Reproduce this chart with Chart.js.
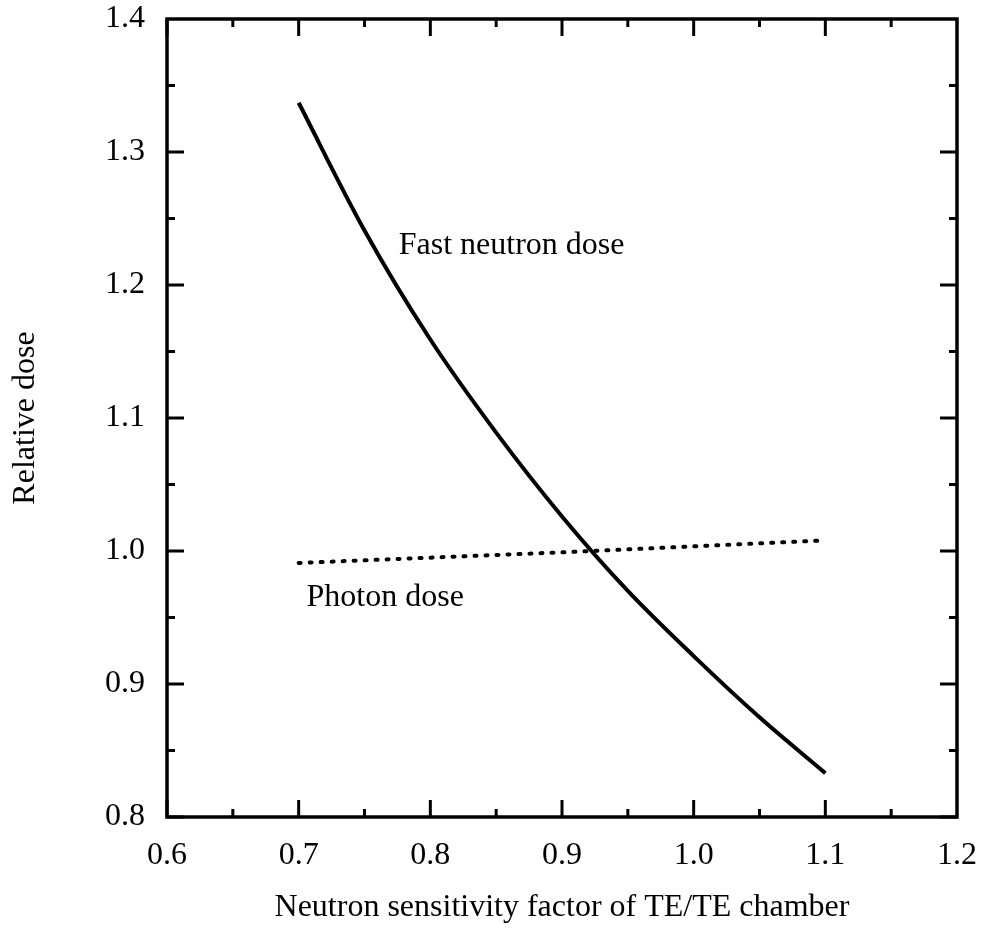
<!DOCTYPE html>
<html>
<head>
<meta charset="utf-8">
<script src="https://cdn.jsdelivr.net/npm/chart.js@4.4.1/dist/chart.umd.min.js"></script>
<style>
  html, body { margin: 0; padding: 0; background: #fff; }
  #wrap { width: 987px; height: 937px; }
</style>
</head>
<body>
<div id="wrap"><canvas id="doseChart" width="987" height="937"></canvas></div>
<script>
// Data
const sensitivity = [0.70, 0.75, 0.80, 0.85, 0.90, 0.95, 1.00, 1.05, 1.10];
const fastNeutronDose = [1.337, 1.241, 1.159, 1.089, 1.026, 0.970, 0.921, 0.875, 0.833];
const photonX = [0.70, 0.90, 1.10];
const photonDose = [0.991, 0.999, 1.008];
const xTicks = [0.6, 0.7, 0.8, 0.9, 1.0, 1.1, 1.2];
const yTicks = [0.8, 0.9, 1.0, 1.1, 1.2, 1.3, 1.4];
const curveLabels = ['Fast neutron dose', 'Photon dose'];
const labelX = [0.776, 0.706];
const labelY = [1.230, 0.965];

const serif = '"Liberation Serif", "DejaVu Serif", serif';
const fontSize = 32;

// Cadre et graduations vers l'intérieur, sur les quatre côtés
const framePlugin = {
  id: 'frame',
  afterDatasetsDraw(chart) {
    const ctx = chart.ctx;
    const a = chart.chartArea;
    const xs = chart.scales.x;
    const ys = chart.scales.y;
    ctx.save();
    ctx.strokeStyle = '#000';
    ctx.lineWidth = 3.5;
    ctx.strokeRect(a.left, a.top, a.right - a.left, a.bottom - a.top);

    ctx.lineWidth = 3;
    for (let i = 0; i < xTicks.length - 1; i++) {
      [xTicks[i], (xTicks[i] + xTicks[i + 1]) / 2].forEach((v, k) => {
        const len = k === 0 ? 17 : 8;
        const px = xs.getPixelForValue(v);
        ctx.beginPath();
        ctx.moveTo(px, a.bottom); ctx.lineTo(px, a.bottom - len);
        ctx.moveTo(px, a.top); ctx.lineTo(px, a.top + len);
        ctx.stroke();
      });
    }
    for (let i = 0; i < yTicks.length - 1; i++) {
      [yTicks[i], (yTicks[i] + yTicks[i + 1]) / 2].forEach((v, k) => {
        const len = k === 0 ? 17 : 8;
        const py = ys.getPixelForValue(v);
        ctx.beginPath();
        ctx.moveTo(a.left, py); ctx.lineTo(a.left + len, py);
        ctx.moveTo(a.right, py); ctx.lineTo(a.right - len, py);
        ctx.stroke();
      });
    }

    // Libellés des courbes
    ctx.fillStyle = '#000';
    ctx.font = fontSize + 'px ' + serif;
    ctx.textAlign = 'left';
    ctx.textBaseline = 'middle';
    curveLabels.forEach((t, i) => {
      ctx.fillText(t, xs.getPixelForValue(labelX[i]), ys.getPixelForValue(labelY[i]));
    });
    ctx.restore();
  }
};

const ctx = document.getElementById('doseChart').getContext('2d');
const chart = new Chart(ctx, {
  type: 'scatter',
  data: {
    datasets: [
      {
        label: 'Fast neutron dose',
        data: sensitivity.map((x, i) => ({ x: x, y: fastNeutronDose[i] })),
        showLine: true,
        borderColor: '#000',
        borderWidth: 4,
        pointRadius: 0,
        cubicInterpolationMode: 'monotone',
        fill: false
      },
      {
        label: 'Photon dose',
        data: photonX.map((x, i) => ({ x: x, y: photonDose[i] })),
        showLine: true,
        borderColor: '#000',
        borderWidth: 4,
        borderDash: [2, 9],
        borderCapStyle: 'round',
        pointRadius: 0,
        fill: false
      }
    ]
  },
  options: {
    responsive: false,
    animation: false,
    layout: { padding: { left: 0, right: 30, top: 19, bottom: 0 } },
    plugins: {
      legend: { display: false },
      tooltip: { enabled: false }
    },
    scales: {
      x: {
        type: 'linear',
        min: 0.6,
        max: 1.2,
        grid: { display: false, drawTicks: false },
        border: { display: false },
        afterBuildTicks(scale) { scale.ticks = xTicks.map(v => ({ value: v })); },
        afterFit(scale) {
          scale.height = 120;
          scale.paddingLeft = 0;
          scale.paddingRight = 0;
        },
        ticks: {
          color: '#000',
          padding: 19,
          font: { family: serif, size: fontSize },
          callback: v => Number(v).toFixed(1)
        },
        title: {
          display: true,
          text: 'Neutron sensitivity factor of TE/TE chamber',
          color: '#000',
          font: { family: serif, size: fontSize },
          padding: { top: 0, bottom: 10 }
        }
      },
      y: {
        type: 'linear',
        min: 0.8,
        max: 1.4,
        grid: { display: false, drawTicks: false },
        border: { display: false },
        afterBuildTicks(scale) { scale.ticks = yTicks.map(v => ({ value: v })); },
        afterFit(scale) {
          scale.width = 167;
          scale.paddingTop = 0;
          scale.paddingBottom = 0;
        },
        ticks: {
          color: '#000',
          padding: 22,
          font: { family: serif, size: fontSize },
          callback: v => Number(v).toFixed(1)
        },
        title: {
          display: true,
          text: 'Relative dose',
          color: '#000',
          font: { family: serif, size: fontSize },
          padding: { top: 6, bottom: 0 }
        }
      }
    }
  },
  plugins: [framePlugin]
});
</script>
</body>
</html>
